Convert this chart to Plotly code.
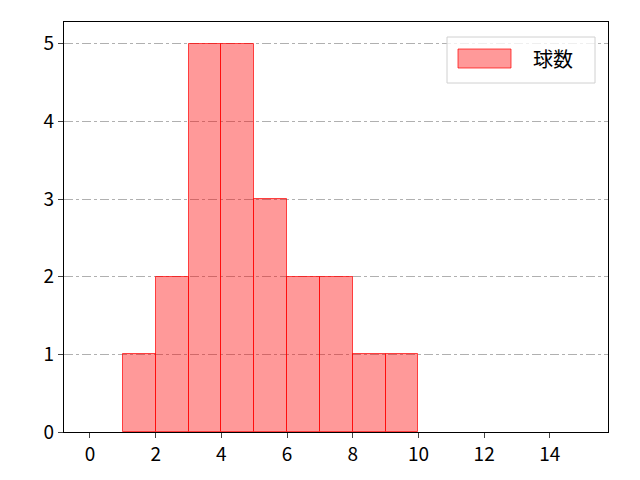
import plotly.graph_objects as go

bin_left = [1, 2, 3, 4, 5, 6, 7, 8, 9]
counts = [1, 2, 5, 5, 3, 2, 2, 1, 1]
bin_width = 1
series_name = "球数"
x_ticks = [0, 2, 4, 6, 8, 10, 12, 14]
y_ticks = [0, 1, 2, 3, 4, 5]

centers = [b + bin_width / 2 for b in bin_left]

BAR_FILL = "rgba(255,0,0,0.4)"
BAR_EDGE = "rgba(255,0,0,0.7)"

fig = go.Figure()
fig.add_trace(go.Bar(
    x=centers, y=counts, width=[bin_width] * len(centers),
    name=series_name,
    marker=dict(color=BAR_FILL, line=dict(color=BAR_EDGE, width=1)),
    showlegend=False,
))

font = "Noto Sans CJK JP, DejaVu Sans, sans-serif"

# page body has an 8px offset; compensate in margins
OFF = 8
L, R, T, B = 64 - OFF, 640 - (608 - OFF), 22 - OFF, 480 - (432 - OFF)
pw, ph = 608 - 64, 432 - 22


def px_to_paper(px, py):
    return (px - 64) / pw, (432 - py) / ph


# manual legend
lx0, ly0 = px_to_paper(447, 83)
lx1, ly1 = px_to_paper(595, 37)
sx0, sy0 = px_to_paper(458, 68)
sx1, sy1 = px_to_paper(511, 49)
tx, ty = px_to_paper(531, 59)

fig.add_shape(type="rect", xref="paper", yref="paper", x0=lx0, y0=ly0, x1=lx1, y1=ly1,
              line=dict(color="#d0d0d0", width=1), fillcolor="rgba(255,255,255,0.8)", layer="above")
fig.add_shape(type="rect", xref="paper", yref="paper", x0=sx0, y0=sy0, x1=sx1, y1=sy1,
              line=dict(color=BAR_EDGE, width=1), fillcolor=BAR_FILL, layer="above")
fig.add_annotation(xref="paper", yref="paper", x=tx, y=ty, text=series_name, showarrow=False,
                   xanchor="left", yanchor="middle", font=dict(size=20, color="black", family=font))

fig.update_layout(
    width=640, height=480,
    margin=dict(l=L, r=R, t=T, b=B, autoexpand=False),
    plot_bgcolor="white", paper_bgcolor="white",
    font=dict(family=font, size=19, color="black"),
    bargap=0,
    showlegend=False,
    xaxis=dict(range=[-0.79, 15.77], tickvals=x_ticks, ticks="outside", ticklen=5,
               tickwidth=1.2, showline=True, mirror=True, linecolor="black", linewidth=1.2,
               showgrid=False, zeroline=False, tickfont=dict(size=19)),
    yaxis=dict(range=[0, 5.28], tickvals=y_ticks, ticks="outside", ticklen=5,
               tickwidth=1.2, showline=True, mirror=True, linecolor="black", linewidth=1.2,
               showgrid=True, gridcolor="#b0b0b0", griddash="dashdot", gridwidth=1,
               zeroline=False, layer="above traces", tickfont=dict(size=19)),
)

fig.write_html("out.html")
